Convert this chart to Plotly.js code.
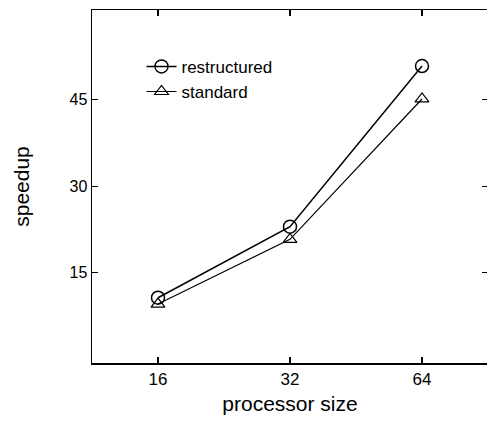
<!DOCTYPE html>
<html><head><meta charset="utf-8">
<script src="https://cdn.plot.ly/plotly-3.0.1.min.js"></script>
<style>html,body{margin:0;padding:0;overflow:hidden;background:#fff}</style>
</head><body>
<div id="chart" style="width:490px;height:426px"></div>
<script>
const processorSizes = ["16", "32", "64"];
const restructured = [10.7, 23.0, 50.8];
const standard = [9.6, 20.8, 45.1];
const yTicks = [15, 30, 45];

const font = {family: "Liberation Sans, Arial, sans-serif", color: "#000"};

const traces = [
  {x: processorSizes, y: restructured, name: "restructured", type: "scatter", mode: "lines+markers",
   line: {color: "#000", width: 1.5},
   marker: {symbol: "circle-open", size: 13, color: "#000", line: {width: 1.5, color: "#000"}}},
  {x: processorSizes, y: standard, name: "standard", type: "scatter", mode: "lines+markers",
   line: {color: "#000", width: 1.2},
   marker: {symbol: "triangle-up-open", size: 12, color: "#000", line: {width: 1.2, color: "#000"}}}
];

const layout = {
  width: 490, height: 426,
  margin: {l: 92, r: 2, t: 10, b: 63},
  paper_bgcolor: "#fff", plot_bgcolor: "#fff",
  font: font,
  showlegend: true,
  legend: {x: 0.125, y: 0.89, xanchor: "left", yanchor: "top", bgcolor: "rgba(0,0,0,0)",
           font: {family: font.family, size: 17, color: "#000"}, itemwidth: 30, tracegroupgap: 0},
  xaxis: {type: "category", range: [-0.5, 2.5], showline: true, linecolor: "#000", linewidth: 1.5,
          mirror: "ticks", ticks: "inside", ticklen: 6, tickcolor: "#000", tickwidth: 1.2,
          showgrid: false, zeroline: false,
          tickfont: {family: font.family, size: 17, color: "#000"},
          title: {text: "processor size", font: {family: font.family, size: 21, color: "#000"}, standoff: 8}},
  yaxis: {range: [-0.6, 60.5], tickvals: yTicks, showline: true, linecolor: "#000", linewidth: 1.5,
          mirror: "ticks", ticks: "inside", ticklen: 6, tickcolor: "#000", tickwidth: 1.2,
          showgrid: false, zeroline: false,
          tickfont: {family: font.family, size: 16, color: "#000"},
          title: {text: "speedup", font: {family: font.family, size: 21, color: "#000"}, standoff: 34}}
};

Plotly.newPlot("chart", traces, layout, {displayModeBar: false, staticPlot: true});
</script>
</body></html>
